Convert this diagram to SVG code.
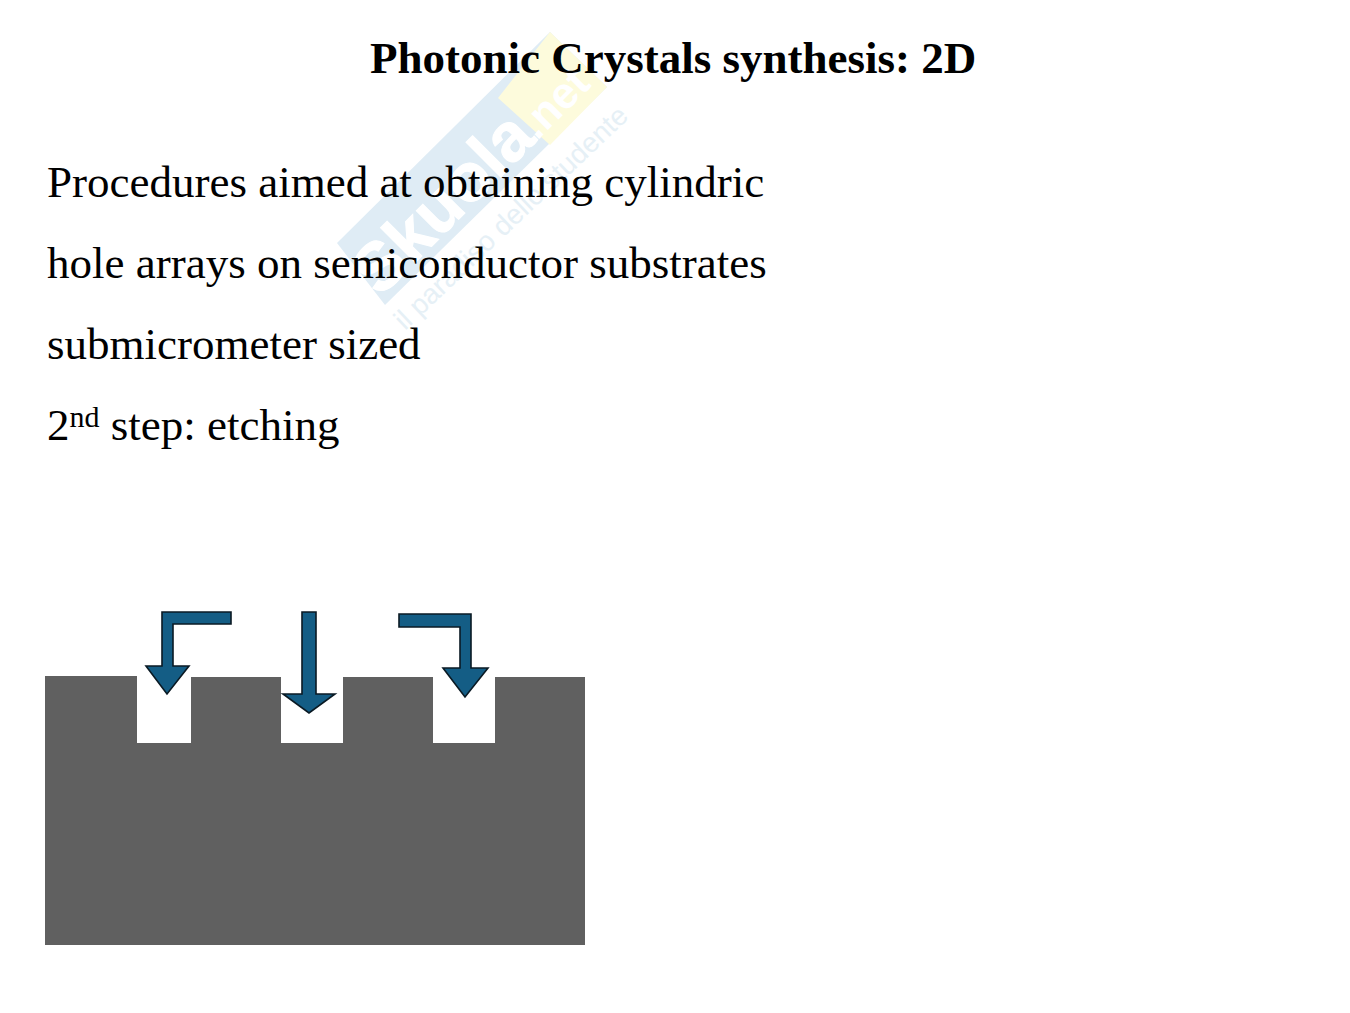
<svg xmlns="http://www.w3.org/2000/svg" width="1350" height="1013" viewBox="0 0 1350 1013">
<style>
.t{font-family:"Liberation Serif","Times New Roman",serif;fill:#000}
.h{font-size:45px;font-weight:bold}
.b{font-size:45px}
.a{fill:#145d85;stroke:#0a1a24;stroke-width:1.6;stroke-linejoin:miter}
.wm{font-family:"Liberation Sans",Arial,sans-serif}
</style>
<rect width="1350" height="1013" fill="#fff"/>
<g id="watermark">
<polygon points="337,243 550,32 607,87 385,305" fill="#dfecf5"/>
<polygon points="498,98 550,32 607,87 550,145" fill="#fdfbdc"/>
<text class="wm" transform="translate(380,298) rotate(-45)" font-size="68" font-weight="bold" fill="#fff" stroke="#fff">Skuola</text>
<text class="wm" transform="translate(537,141) rotate(-45)" font-size="44" font-weight="bold" fill="#fff">.net</text>
<text class="wm" transform="translate(405,331) rotate(-43.5)" font-size="28" fill="#e6f0f6">il paradiso dello studente</text>
</g>
<text id="title" class="t h" x="370" y="73">Photonic Crystals synthesis: 2D</text>
<g id="body">
<text class="t b" x="47" y="197">Procedures aimed at obtaining cylindric</text>
<text class="t b" x="47" y="278">hole arrays on semiconductor substrates</text>
<text class="t b" x="47" y="359">submicrometer sized</text>
<text class="t b" x="47" y="440">2<tspan font-size="30" dy="-13">nd</tspan><tspan dy="13"> step: etching</tspan></text>
</g>
<g id="substrate">
<polygon fill="#606060" points="45,676 137,676 137,743 191,743 191,677 281,677 281,743 343,743 343,677 433,677 433,743 495,743 495,677 585,677 585,945 45,945"/>
</g>
<g id="connectors">
<polygon class="a" points="231,612 162,612 162,666 146,666 167,694 189,666 173,666 173,624 231,624"/>
<polygon class="a" points="302,612 316,612 316,694 335,694 309,713 283,694 302,694"/>
<polygon class="a" points="399,614 471,614 471,668 488,668 465,697 443,668 460,668 460,627 399,627"/>
</g>
</svg>
